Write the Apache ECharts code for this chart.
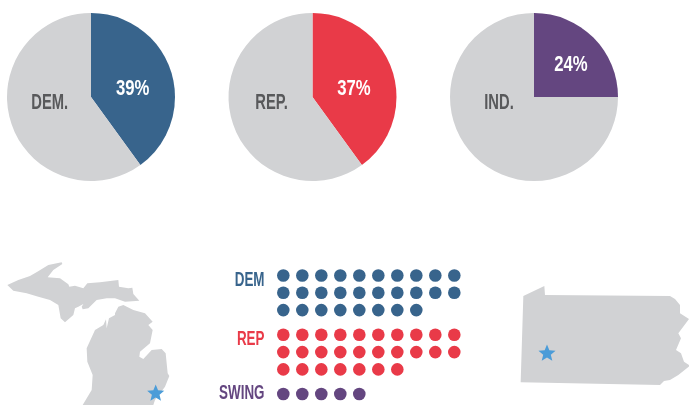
<!DOCTYPE html>
<html>
<head>
    <meta charset="utf-8">
    <style>
        html, body {
            height: 100%;
            margin: 0;
            padding: 0;
            background: #fff;
        }

        .container {
            width: 689px;
            height: 405px;
        }
    </style>
</head>
<body>
<div id="main" class="container"></div>

<script src="https://cdn.jsdelivr.net/npm/echarts@6/dist/echarts.min.js"></script>
<script type="text/javascript">
// pies: the slices in the picture are a bit wider than their printed numbers
var pieNames = ['DEM.', 'REP.', 'IND.'];
var pieLabels = ['39%', '37%', '24%'];
var pieSlices = [40, 40, 25];
var pieColors = ['#38648c', '#e93a48', '#644680'];

// dots per row
var demRows = [10, 10, 8];
var repRows = [10, 10, 7];
var swingRows = [5];

var gray = '#d1d2d4';
var textGray = '#58595b';
var starBlue = '#4b9cd8';
var fontName = '"Liberation Sans", sans-serif';
var squeeze = 0.67; // no condensed face installed, so the text gets squeezed

// state outlines, traced in 3x pixels
var upperMichigan = [[22,105],[55,90],[90,78],[112,65],[145,45],[185,37],[187,42],[160,60],[143,82],[180,85],[205,103],[208,110],[225,107],[250,115],[262,100],[300,97],[355,90],[357,110],[385,115],[397,113],[400,132],[418,152],[375,155],[345,145],[320,145],[290,150],[265,175],[248,178],[245,170],[250,162],[235,170],[225,175],[220,195],[195,217],[182,205],[175,165],[150,150],[115,140],[80,130],[40,122]];
var lowerMichigan = [[345,190],[355,170],[370,165],[400,180],[435,190],[458,215],[445,225],[458,240],[450,280],[420,305],[418,320],[430,327],[455,300],[485,297],[497,310],[503,370],[508,378],[495,410],[465,450],[460,465],[248,465],[275,420],[278,375],[262,335],[260,295],[285,240],[310,225],[318,208],[320,235],[327,205],[345,195]];
var pennsylvania = [[40,63],[103,33],[105,60],[480,63],[495,72],[510,90],[510,115],[537,132],[505,175],[513,190],[498,225],[513,235],[522,260],[540,272],[505,300],[480,315],[462,318],[450,330],[32,322]];

function shape(points, x, y) {
    return {
        type: 'polygon',
        x: x,
        y: y,
        scaleX: 1 / 3,
        scaleY: 1 / 3,
        silent: true,
        shape: { points: points },
        style: { fill: gray }
    };
}

function star(cx, cy) {
    var points = [];
    for (var i = 0; i < 10; i++) {
        var r = i % 2 ? 4 : 9;
        var a = i * Math.PI / 5;
        points.push([cx + r * Math.sin(a), cy - r * Math.cos(a)]);
    }
    return {
        type: 'polygon',
        silent: true,
        shape: { points: points },
        style: { fill: starBlue }
    };
}

function label(text, x, y, color, size, align, scale) {
    return {
        type: 'text',
        x: x,
        y: y,
        z: 10,
        scaleX: scale,
        silent: true,
        style: {
            text: text,
            fill: color,
            font: 'bold ' + size + 'px ' + fontName,
            textAlign: align,
            textVerticalAlign: 'middle'
        }
    };
}

function pieSeries(i, centerX) {
    return {
        type: 'pie',
        silent: true,
        radius: 84,
        center: [centerX, 97],
        startAngle: 90,
        clockwise: true,
        label: { show: false },
        labelLine: { show: false },
        data: [
            { value: pieSlices[i], itemStyle: { color: pieColors[i] } },
            { value: 100 - pieSlices[i], itemStyle: { color: gray } }
        ]
    };
}

function dotData(rows) {
    var out = [];
    rows.forEach(function (count, row) {
        for (var col = 0; col < count; col++) {
            out.push([col, row]);
        }
    });
    return out;
}

function dotGrid(top) {
    return { left: 283.3, width: 171, top: top, height: 34.6 };
}

function xOff(index) {
    return { type: 'value', gridIndex: index, min: 0, max: 9, show: false };
}

function yOff(index) {
    return { type: 'value', gridIndex: index, min: 0, max: 2, show: false, inverse: true };
}

function dotSeries(rows, index, color) {
    return {
        type: 'scatter',
        silent: true,
        xAxisIndex: index,
        yAxisIndex: index,
        symbolSize: 12.6,
        itemStyle: { color: color, opacity: 1 },
        data: dotData(rows)
    };
}

var myChart = echarts.init(document.getElementById('main'));

var option = {
    animation: false,
    grid: [dotGrid(275.5), dotGrid(334.8), dotGrid(394)],
    xAxis: [xOff(0), xOff(1), xOff(2)],
    yAxis: [yOff(0), yOff(1), yOff(2)],
    series: [
        pieSeries(0, 91),
        pieSeries(1, 312.5),
        pieSeries(2, 534),
        dotSeries(demRows, 0, pieColors[0]),
        dotSeries(repRows, 1, pieColors[1]),
        dotSeries(swingRows, 2, pieColors[2])
    ],
    graphic: [
        shape(upperMichigan, 0, 250),
        shape(lowerMichigan, 0, 250),
        shape(pennsylvania, 510, 275),
        star(155.7, 393.5),
        star(547, 353.5),
        label(pieNames[0], 49.7, 103, textGray, 22, 'center', squeeze),
        label(pieNames[1], 271.5, 103, textGray, 22, 'center', squeeze),
        label(pieNames[2], 499, 103, textGray, 22, 'center', squeeze),
        label(pieLabels[0], 132.7, 89, '#fff', 22, 'center', 0.76),
        label(pieLabels[1], 354, 89, '#fff', 22, 'center', 0.76),
        label(pieLabels[2], 571, 65, '#fff', 22, 'center', 0.76),
        label('DEM', 264.5, 280, pieColors[0], 20, 'right', squeeze),
        label('REP', 264.5, 339.5, pieColors[1], 20, 'right', squeeze),
        label('SWING', 264.5, 393.5, pieColors[2], 20, 'right', squeeze)
    ]
};

myChart.setOption(option);
</script>
</body>
</html>
